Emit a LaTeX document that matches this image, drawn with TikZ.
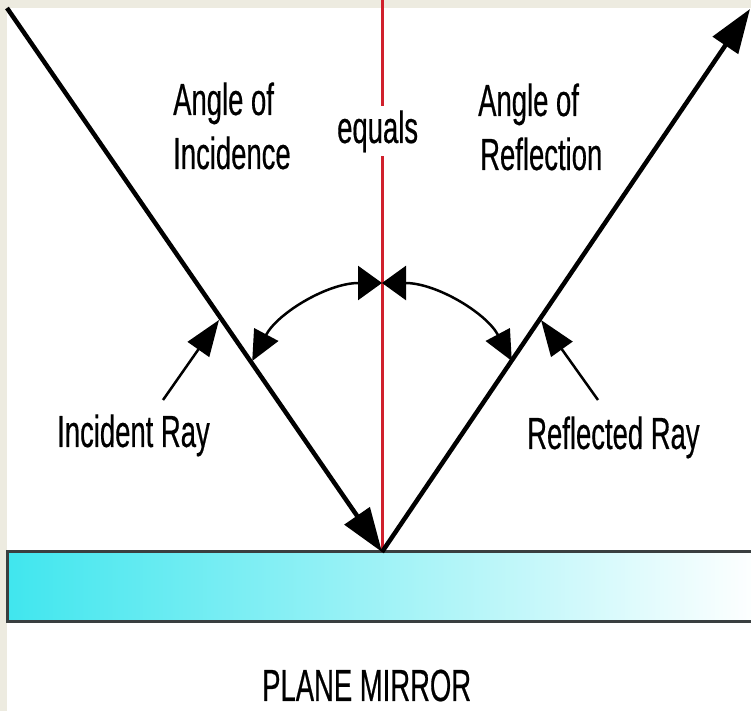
\documentclass[tikz,border=0pt]{standalone}
\usepackage{fontspec}
\setmainfont[FakeStretch=0.61,FakeBold=0.4]{Liberation Sans}
\usetikzlibrary{arrows.meta}
\definecolor{bg}{HTML}{EDEBE0}
\definecolor{redline}{HTML}{D0202C}
\definecolor{mirrorcyan}{HTML}{40E6EE}
\definecolor{mirrormid}{HTML}{8CF3F5}
\definecolor{mirroredge}{HTML}{3A3F40}
\begin{document}
\begin{tikzpicture}[x=1pt,y=1pt,
  lbl/.style={inner sep=0pt, anchor=base west, font=\fontsize{45}{54}\selectfont},
  ray/.style={line width=4.5pt, -{Triangle[length=44pt,width=30pt]}},
  ptr/.style={line width=2.5pt, -{Triangle[length=36pt,width=26pt]}},
  arcarrow/.style={line width=2.5pt, {Triangle[length=24pt,width=34pt]}-{Triangle[length=30pt,width=27pt]}},
  normal/.style={redline, line width=3pt}
]
\useasboundingbox (0,0) rectangle (751,711);
\fill[bg] (0,0) rectangle (751,711);
\fill[white] (7,0) rectangle (751,703);

% coordinates
\coordinate (O) at (382,159);
\coordinate (A) at (7,703);
\coordinate (B) at (750,702);
\coordinate (Ntop) at (382,711);
\coordinate (apex) at (382,428);
\coordinate (ipS) at (163,311);
\coordinate (ipT) at (219,391);
\coordinate (rpS) at (598,311);
\coordinate (rpT) at (541,391);

% mirror
\shade[left color=mirrorcyan, middle color=mirrormid, right color=white] (7,89) rectangle (760,159);
\draw[mirroredge, line width=3pt] (7,89) rectangle (760,159);

% normal
\draw[normal] (O) -- (Ntop);

% labels
\node[lbl, fill=white, inner ysep=4pt] (equals) at (337,568) {equals};
\node[lbl] (ai1) at (173,596) {Angle of};
\node[lbl] (ai2) at (173,542) {Incidence};
\node[lbl] (ar1) at (478,595) {Angle of};
\node[lbl] (ar2) at (480,541) {Reflection};
\node[lbl] (irl) at (57,264) {Incident Ray};
\node[lbl] (rrl) at (527,262) {Reflected Ray};
\node[lbl] (pm) at (262,10) {PLANE MIRROR};

% rays
\draw[ray] (A) -- (O);
\draw[ray] (O) -- (B);

% angle arcs
\draw[arcarrow] (apex) arc[start angle=90, end angle=152, radius=147];
\draw[arcarrow] (apex) arc[start angle=90, end angle=28, radius=147];

% pointers
\draw[ptr] (ipS) -- (ipT);
\draw[ptr] (rpS) -- (rpT);
\end{tikzpicture}
\end{document}
